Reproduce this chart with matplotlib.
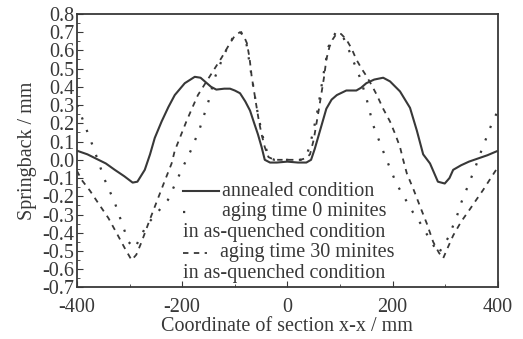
import matplotlib.pyplot as plt
from matplotlib.ticker import MultipleLocator

plt.rcParams['font.family'] = ['Liberation Serif', 'DejaVu Serif']
plt.rcParams['axes.unicode_minus'] = False

ink = '#383838'

# annealed condition
x_ann = [-400, -380, -366, -345, -328, -310, -294, -285, -271, -261, -252, -239,
         -226, -214, -195, -176, -165, -157, -145, -135, -120, -109, -100, -90,
         -80, -71, -63, -56, -49, -43, -33, -20, 0, 20, 36, 45, 52, 62, 74, 84,
         94, 112, 131, 140, 150, 165, 182, 195, 214, 233, 246, 258, 271, 280,
         286, 299, 308, 315, 330, 345, 360, 380, 398]
y_ann = [0.05, 0.03, 0.01, -0.02, -0.055, -0.09, -0.125, -0.12, -0.055, 0.03, 0.12, 0.21,
         0.29, 0.355, 0.42, 0.455, 0.45, 0.43, 0.40, 0.385, 0.39, 0.39, 0.38, 0.365,
         0.32, 0.27, 0.20, 0.14, 0.07, 0.0, -0.015, -0.015, -0.01, -0.015, -0.015, 0.0, 0.06, 0.16, 0.28, 0.33,
         0.355, 0.38, 0.38, 0.395, 0.42, 0.44, 0.45, 0.43, 0.375, 0.285, 0.16, 0.03, -0.02, -0.08,
         -0.12, -0.13, -0.10, -0.055, -0.03, -0.01, 0.005, 0.025, 0.047]

# aging time 0 minites
x_a0 = [-400, -394, -385, -369, -347, -328, -302, -290, -268, -227, -201, -182,
        -166, -150, -138, -120, -100, -88, -78, -68, -58, -48, -36, -25, 0, 25,
        36, 48, 58, 68, 78, 92, 105, 120, 138, 150, 163, 185, 207, 239, 252,
        287, 306, 322, 331, 356, 366, 388, 400]
y_a0 = [0.30, 0.26, 0.19, 0.07, -0.11, -0.235, -0.45, -0.485, -0.36, -0.22, -0.055, 0.06,
        0.176, 0.32, 0.45, 0.58, 0.69, 0.70, 0.64, 0.46, 0.28, 0.14, 0.015, 0.0, 0.0, 0.0,
        0.015, 0.14, 0.28, 0.46, 0.62, 0.70, 0.68, 0.58, 0.45, 0.34, 0.19, 0.025, -0.13, -0.29, -0.345,
        -0.515, -0.425, -0.31, -0.23, -0.05, 0.03, 0.195, 0.27]

# aging time 30 minites
x_a30 = [-400, -391, -375, -360, -340, -322, -308, -296, -287, -277, -263, -249,
         -235, -220, -214, -203, -192, -180, -170, -158, -147, -136, -125, -117,
         -109, -100, -90, -83, -77, -72, -68, -63, -58, -54, -49, -43, -36, -25,
         0, 25, 36, 43, 50, 55, 60, 65, 70, 74, 80, 86, 93, 102, 112, 122, 131,
         141, 150, 160, 170, 182, 195, 205, 214, 220, 227, 240, 252, 265, 277,
         288, 296, 305, 315, 330, 347, 360, 372, 391, 400]
y_a30 = [-0.06, -0.11, -0.17, -0.235, -0.32, -0.415, -0.49, -0.55, -0.52, -0.45, -0.34, -0.235,
         -0.13, -0.02, 0.05, 0.13, 0.21, 0.29, 0.355, 0.41, 0.46, 0.51, 0.56, 0.60,
         0.64, 0.68, 0.70, 0.68, 0.64, 0.56, 0.46, 0.37, 0.28, 0.21, 0.14, 0.07, 0.015, 0.0,
         0.0, 0.0, 0.01, 0.03, 0.11, 0.195, 0.28, 0.37, 0.46, 0.55, 0.62, 0.66, 0.69, 0.69, 0.66, 0.61, 0.55,
         0.50, 0.46, 0.41, 0.355, 0.28, 0.21, 0.14, 0.07, 0.0, -0.075, -0.165, -0.255, -0.35, -0.45,
         -0.51, -0.54, -0.48, -0.415, -0.34, -0.27, -0.215, -0.165, -0.08, -0.04]

fig = plt.figure(figsize=(5.23, 3.39), dpi=100)
ax = fig.add_axes([0.147, 0.152, 0.805, 0.807])

ax.plot(x_ann, y_ann, color=ink, lw=1.5, ls='-')
ax.plot(x_a0, y_a0, color=ink, lw=1.6, ls=(0, (1, 5)))
ax.plot(x_a30, y_a30, color=ink, lw=1.3, ls=(0, (3, 3)))

ax.set_xlim(-400, 400)
ax.set_ylim(-0.7, 0.8)
ax.xaxis.set_major_locator(MultipleLocator(200))
ax.xaxis.set_minor_locator(MultipleLocator(100))
ax.yaxis.set_major_locator(MultipleLocator(0.1))
ax.yaxis.set_minor_locator(MultipleLocator(0.05))
ax.yaxis.set_major_formatter(lambda v, p: f'{v:.1f}'.replace('-0.0', '0.0'))
ax.tick_params(which='both', direction='in', colors=ink, labelsize=14.5)
ax.tick_params(axis='x', pad=7.5)
ax.tick_params(axis='y', pad=2)
ax.tick_params(which='major', length=4)
ax.tick_params(which='minor', length=2.5)
for s in ax.spines.values():
    s.set_color(ink)
    s.set_linewidth(1.3)

ax.set_xlabel('Coordinate of section x-x / mm', fontsize=14.5, color=ink, labelpad=0)
ax.set_ylabel('Springback / mm', fontsize=14.5, color=ink, labelpad=4)

# hand made legend (second line of label starts under the handle)
tr = ax.transAxes
hx0, tx = 0.252, 0.344
rows = [0.352, 0.277, 0.202, 0.127, 0.052]
ax.plot([hx0, 0.337], [rows[0], rows[0]], transform=tr, color=ink, lw=1.5)
ax.plot([hx0, 0.28], [rows[1], rows[1]], transform=tr, color=ink, lw=1.6, ls=(0, (1, 5)))
ax.plot([hx0, 0.31], [rows[3], rows[3]], transform=tr, color=ink, lw=1.3, ls=(0, (3, 3)))
leg_rows = [(tx, rows[0], 'annealed condition'),
            (tx, rows[1], 'aging time 0 minites'),
            (hx0, rows[2], 'in as-quenched condition'),
            (tx - 0.004, rows[3], 'aging time 30 minites'),
            (hx0, rows[4], 'in as-quenched condition')]
for x, y, t in leg_rows:
    ax.text(x, y, t, transform=tr, fontsize=14.5, color=ink, va='center', ha='left')

fig.savefig('out.png', dpi=100)
